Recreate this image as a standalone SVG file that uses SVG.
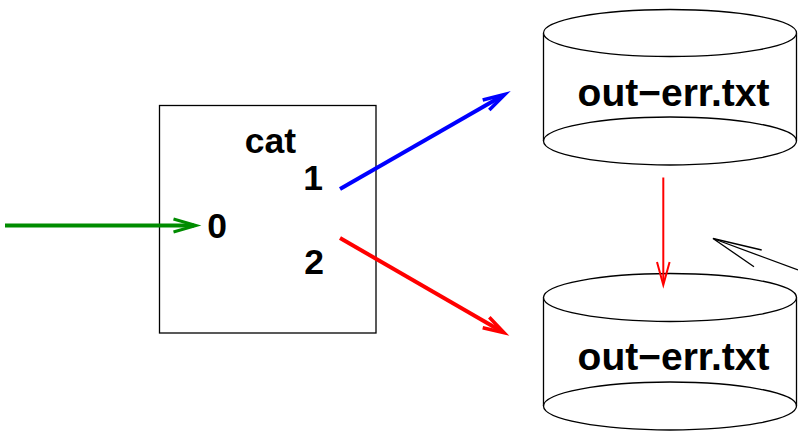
<svg xmlns="http://www.w3.org/2000/svg" width="798" height="431" viewBox="0 0 798 431">
<style>
.shape{fill:#fff;stroke:#000;stroke-width:1.3}
.lbl{font-family:"Liberation Sans",Arial,sans-serif;font-weight:bold;fill:#000}
.big{font-size:39px}
.mid{font-size:35.5px}
.arr{fill:none;stroke-linecap:butt;stroke-linejoin:miter}
</style>
<rect width="798" height="431" fill="#fff"/>
<g id="cat">
<rect class="shape" x="159.5" y="105.5" width="216.5" height="227.5"/>
<text class="lbl mid" x="270.5" y="153" text-anchor="middle">cat</text>
<text class="lbl mid" x="313" y="190" text-anchor="middle">1</text>
<text class="lbl mid" x="217" y="238" text-anchor="middle">0</text>
<text class="lbl mid" x="314" y="274" text-anchor="middle">2</text>
</g>
<g id="file1">
<path class="shape" d="M543.5,33 L543.5,141 A126.5,24 0 0 0 796.5,141 L796.5,33"/>
<ellipse class="shape" cx="670" cy="33" rx="126.5" ry="23.5"/>
<path class="shape" style="fill:none" d="M543.5,141 A126.5,24 0 0 1 796.5,141"/>
<text class="lbl big" x="673.5" y="106" text-anchor="middle">out−err.txt</text>
</g>
<g id="file2">
<path class="shape" d="M543.5,297.5 L543.5,406 A126.5,24 0 0 0 796.5,406 L796.5,297.5"/>
<ellipse class="shape" cx="670" cy="297.5" rx="126.5" ry="24"/>
<path class="shape" style="fill:none" d="M543.5,406 A126.5,24 0 0 1 796.5,406"/>
<text class="lbl big" x="673.5" y="370" text-anchor="middle">out−err.txt</text>
</g>
<g id="connectors">
<g class="arr" stroke="#008c00" stroke-width="4">
<line x1="5" y1="225.5" x2="194" y2="225.5"/>
<polyline stroke-width="3" points="173.5,219 196,225.5 173.5,232"/>
</g>
<g class="arr" stroke="#0000ff" stroke-width="4">
<line x1="340" y1="189" x2="502" y2="96"/>
<polyline stroke-width="3.5" points="482.7,100 505,94.3 489.3,110"/>
</g>
<g class="arr" stroke="#ff0000" stroke-width="4">
<line x1="340" y1="238" x2="501" y2="331"/>
<polyline stroke-width="3.5" points="489.3,317.3 504,332.7 482.7,327.7"/>
</g>
<g class="arr" stroke="#ff0000" stroke-width="2">
<line x1="663.3" y1="177.5" x2="663.3" y2="283"/>
<polyline points="657,262 663.3,285 669.6,262"/>
</g>
<g class="arr" stroke="#000" stroke-width="1.3">
<line x1="798" y1="270" x2="713" y2="238.5"/>
<polyline points="761.7,250 713,238.5 754,266.7"/>
</g>
</g>
</svg>
